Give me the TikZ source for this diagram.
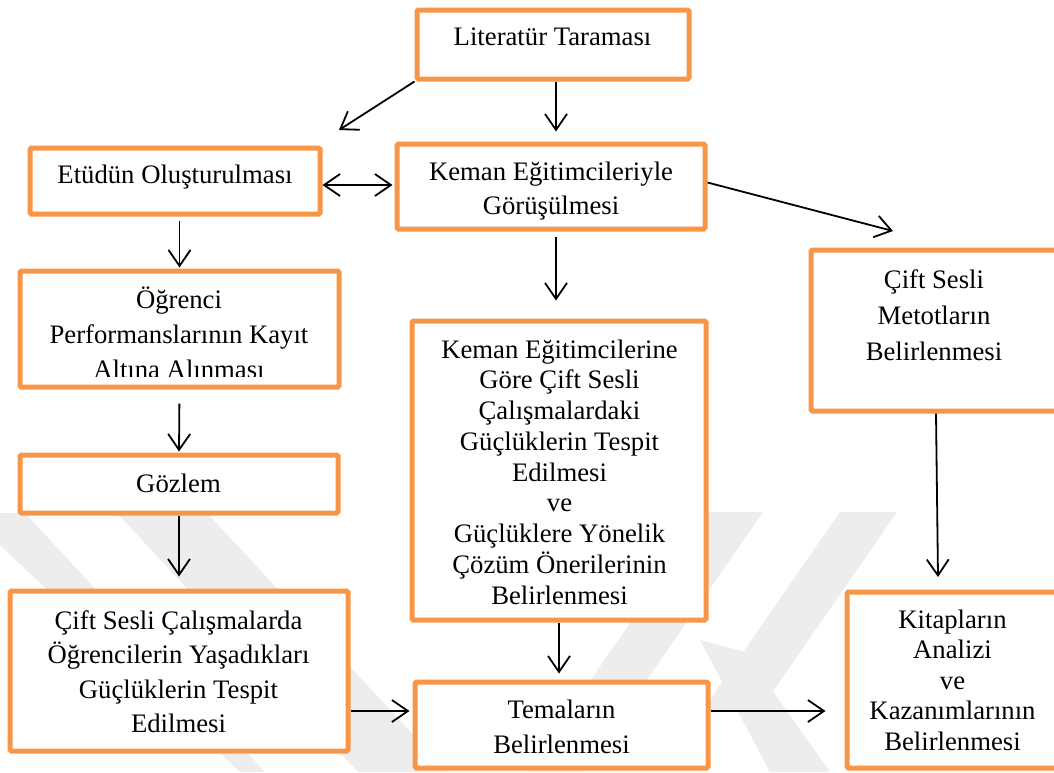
\documentclass[tikz,border=0pt]{standalone}
\usepackage{fontspec}
\setmainfont{Liberation Serif}
\usetikzlibrary{arrows.meta,calc}
\definecolor{boxorange}{HTML}{F79646}
\definecolor{wmark}{HTML}{EDEDED}
\newcommand{\tlines}[2]{\fontsize{26.7}{#1}\selectfont\begin{tabular}[t]{@{}c@{}}#2\end{tabular}}
\begin{document}
\begin{tikzpicture}[x=1pt,y=-1pt,
  box/.style={draw=boxorange, line width=5pt, fill=white, rounded corners=1.5pt, inner sep=0pt, shape=rectangle},
  txt/.style={anchor=base, inner sep=0pt, font=\fontsize{26.7}{30}\selectfont},
  arr/.style={line width=1.8pt, -{Straight Barb[length=16pt,width=22pt]}},
  darr/.style={line width=1.8pt, {Straight Barb[length=16pt,width=22pt]}-{Straight Barb[length=16pt,width=22pt]}},
  wm/.style={fill=wmark, draw=none}]
\useasboundingbox (0,0) rectangle (1054,772);
\fill[white] (0,0) rectangle (1054,772);
\clip (0,0) rectangle (1054,772);
% faint background watermark
\path[wm] (707,512) -- (763,512) -- (583,772) -- (527,772) -- cycle;
\path[wm] (840,512) -- (897,512) -- (760,710) -- (703,710) -- cycle;
\path[wm] (700,640) -- (745,652) -- (830,772) -- (770,772) -- cycle;
\path[wm] (0,513) -- (25,513) -- (265,772) -- (240,772) -- (0,545) -- cycle;
\path[wm] (117,513) -- (207,513) -- (448,772) -- (358,772) -- cycle;
% boxes
\node[box, minimum width=272pt, minimum height=69pt] (lit) at (553,44.5) {};
\node[box, minimum width=290pt, minimum height=66pt] (etu) at (175,181) {};
\node[box, minimum width=308pt, minimum height=85pt] (kem) at (551,186.5) {};
\node[box, minimum width=319pt, minimum height=116pt] (ogr) at (179.5,329) {};
\node[box, minimum width=318pt, minimum height=58pt] (goz) at (179,484) {};
\node[box, minimum width=338pt, minimum height=160pt] (cift) at (179,671) {};
\node[box, minimum width=294pt, minimum height=299pt] (kem2) at (559,470.5) {};
\node[box, minimum width=293pt, minimum height=86pt] (tem) at (561.5,725) {};
\node[box, minimum width=247pt, minimum height=161pt] (met) at (934.5,330.5) {};
\node[box, minimum width=211pt, minimum height=176pt] (kit) at (952.5,680) {};
% texts
\node[txt] (lit-t) at (552.5,45) {Literatür Taraması};
\node[txt] (etu-t) at (175,183) {Etüdün Oluşturulması};
\node[txt] (kem-t) at (551,180) {\tlines{34}{Keman Eğitimcileriyle\\Görüşülmesi}};
\begin{scope}
\clip (0,0) rectangle (1054,376);
\node[txt] (ogr-t) at (179,308) {\tlines{35}{Öğrenci\\Performanslarının Kayıt\\Altına Alınması}};
\end{scope}
\node[txt] (goz-t) at (178.5,492) {Gözlem};
\node[txt] (cift-t) at (178.5,629) {\tlines{34.5}{Çift Sesli Çalışmalarda\\Öğrencilerin Yaşadıkları\\Güçlüklerin Tespit\\Edilmesi}};
\node[txt] (kem2-t) at (559.5,358) {\tlines{30.75}{Keman Eğitimcilerine\\Göre Çift Sesli\\Çalışmalardaki\\Güçlüklerin Tespit\\Edilmesi\\ve\\Güçlüklere Yönelik\\Çözüm Önerilerinin\\Belirlenmesi}};
\node[txt] (tem-t) at (561.5,718) {\tlines{35}{Temaların\\Belirlenmesi}};
\node[txt] (met-t) at (934,288) {\tlines{36}{Çift Sesli\\Metotların\\Belirlenmesi}};
\node[txt] (kit-t) at (952.5,628) {\tlines{30.5}{Kitapların\\Analizi\\ve\\Kazanımlarının\\Belirlenmesi}};
% connectors
\coordinate (e1) at (339,130);
\draw[arr] (lit.south west) -- (e1);
\coordinate (a2s) at ([xshift=3pt]lit.south);
\draw[arr, shorten >=10pt] (a2s) -- (a2s |- kem.north);
\coordinate (d1) at ([yshift=-4pt]etu.east);
\draw[darr, shorten >=2pt] (d1) -- (d1 -| kem.west);
\coordinate (m1) at (893,231);
\draw[arr] ([yshift=4pt]kem.east) -- (m1);
\draw[arr, shorten <=4pt, shorten >=1pt] (ogr.north |- etu.south) -- (ogr.north);
\draw[arr, shorten <=14pt, shorten >=1pt] (ogr.south) -- (goz.north);
\draw[arr, shorten >=12pt] (goz.south) -- (cift.north);
\coordinate (a8s) at ([xshift=5pt]kem.south);
\draw[arr, shorten <=5pt, shorten >=18pt] (a8s) -- (a8s |- kem2.north);
\draw[arr, shorten >=6pt] (kem2.south) -- (kem2.south |- tem.north);
\coordinate (a10s) at ([yshift=-40pt]cift.east);
\draw[arr, shorten >=3pt] (a10s) -- (a10s -| tem.west);
\coordinate (a11s) at ([yshift=14pt]tem.east);
\draw[arr, shorten >=19pt] (a11s) -- (a11s -| kit.west);
\coordinate (k1) at (938,577);
\draw[arr] ([xshift=1.5pt]met.south) -- (k1);
\end{tikzpicture}
\end{document}
